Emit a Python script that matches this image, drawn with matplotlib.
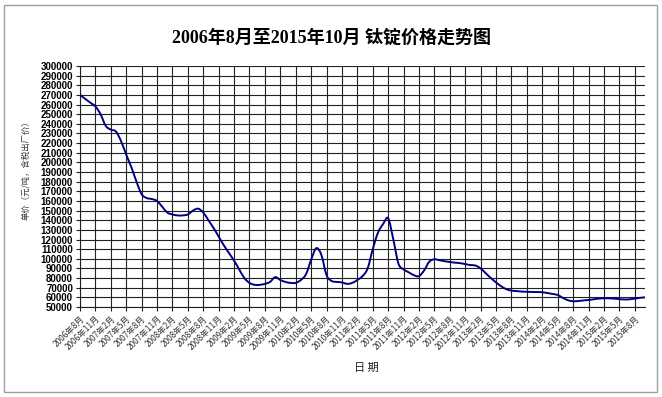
import matplotlib.pyplot as plt
from matplotlib.patches import Rectangle, PathPatch
from matplotlib.path import Path

# monthly price, Aug 2006 .. Oct 2015 (yuan/ton)
price = [
    270000, 266000, 262000, 258000, 250000, 238000, 234000, 232000, 222000, 208000,
    195000, 180000, 167000, 163000, 162000, 160000, 154000, 148000, 146000, 145000,
    145000, 146000, 150000, 152000, 148000, 140000, 132000, 123000, 114000, 106000,
    98000, 89000, 80000, 75000, 73000, 73000, 74000, 76000, 81000, 78000,
    76000, 75000, 75000, 78000, 84000, 99000, 111000, 104000, 83000, 77000,
    76000, 75500, 74000, 75000, 78000, 82000, 90000, 110000, 127000, 136000,
    142000, 120000, 95000, 89000, 86000, 83000, 82000, 88000, 97000, 99500,
    98500, 97500, 96700, 96000, 95500, 94500, 93500, 93000, 90000, 85000,
    80000, 75500, 71500, 68500, 67000, 66500, 66000, 65800, 65600, 65500,
    65300, 64500, 63500, 62500, 59500, 57000, 56000, 56200, 56800, 57300,
    58000, 58700, 59000, 59000, 58700, 58200, 57800, 58000, 58700, 59500,
    60000,
]

date_labels = [
    "2006年8月", "2006年11月",
    "2007年2月", "2007年5月", "2007年8月", "2007年11月",
    "2008年2月", "2008年5月", "2008年8月", "2008年11月",
    "2009年2月", "2009年5月", "2009年8月", "2009年11月",
    "2010年2月", "2010年5月", "2010年8月", "2010年11月",
    "2011年2月", "2011年5月", "2011年8月", "2011年11月",
    "2012年2月", "2012年5月", "2012年8月", "2012年11月",
    "2013年2月", "2013年5月", "2013年8月", "2013年11月",
    "2014年2月", "2014年5月", "2014年8月", "2014年11月",
    "2015年2月", "2015年5月", "2015年8月",
]

y_ticks = list(range(50000, 300001, 10000))

cjk = ["Noto Sans CJK SC", "DejaVu Sans"]


def smooth_path(xs, ys):
    # bezier through the points, like the "smoothed line" option in a spreadsheet
    pts = list(zip(xs, ys))
    verts = [pts[0]]
    codes = [Path.MOVETO]
    n = len(pts)
    for i in range(n - 1):
        p0 = pts[max(i - 1, 0)]
        p1 = pts[i]
        p2 = pts[i + 1]
        p3 = pts[min(i + 2, n - 1)]
        c1 = (p1[0] + (p2[0] - p0[0]) / 6, p1[1] + (p2[1] - p0[1]) / 6)
        c2 = (p2[0] - (p3[0] - p1[0]) / 6, p2[1] - (p3[1] - p1[1]) / 6)
        verts += [c1, c2, p2]
        codes += [Path.CURVE4] * 3
    return Path(verts, codes)


fig = plt.figure(figsize=(6.62, 3.97), dpi=100)
fig.patches.append(Rectangle((4 / 662, 5 / 397), 653 / 662, 387 / 397,
                             transform=fig.transFigure, fill=False,
                             edgecolor="#a0a0a0", linewidth=1))

ax = fig.add_axes([80 / 662, 1 - 307 / 397, 565 / 662, 241 / 397])
months = list(range(len(price)))
ax.add_patch(PathPatch(smooth_path(months, price), fill=False,
                       edgecolor="#000080", linewidth=1.4, zorder=3))

ax.set_xlim(0, len(price) - 1)
ax.set_ylim(50000, 300000)
ax.set_yticks(y_ticks)
ax.set_yticklabels([str(v) for v in y_ticks], fontsize=7, fontweight="bold",
                   family="Liberation Sans")
ax.set_xticks(list(range(0, 3 * len(date_labels), 3)))
ax.set_xticklabels(date_labels, rotation=45, ha="right", va="top",
                   rotation_mode="anchor", fontsize=6, family=cjk, color="#333333")
ax.tick_params(axis="both", length=3, width=0.8, pad=2, color="#222222")
ax.grid(True, color="#222222", linewidth=0.8)
ax.set_axisbelow(True)
for s in ["top", "right"]:
    ax.spines[s].set_visible(False)
for s in ["left", "bottom"]:
    ax.spines[s].set_color("#222222")
    ax.spines[s].set_linewidth(0.8)

fig.text(0.5, 1 - 38 / 397, "2006年8月至2015年10月 钛锭价格走势图", ha="center", va="center",
         fontsize=13, fontweight="bold", family=["Liberation Serif", "Noto Sans CJK SC"])
fig.text(26 / 662, 1 - 168 / 397, "单价（元/吨，含税出厂价）", rotation=90,
         ha="center", va="center", fontsize=6, family=cjk, color="#333333")
fig.text(366 / 662, 1 - 368 / 397, "日 期", ha="center", va="center",
         fontsize=8, family=cjk, color="#222222")

plt.savefig("out.png", dpi=100)
